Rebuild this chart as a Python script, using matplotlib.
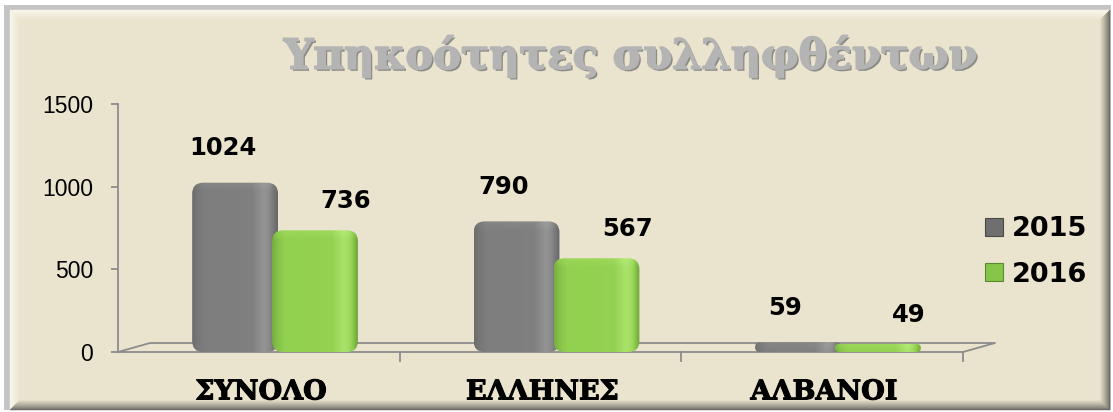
import numpy as np
import matplotlib
matplotlib.use('Agg')
import matplotlib.pyplot as plt
import matplotlib.patheffects as pe
from matplotlib.patches import Rectangle, FancyBboxPatch, Polygon
from matplotlib.colors import LinearSegmentedColormap, to_rgb
from matplotlib.transforms import Affine2D

categories = ['ΣΥΝΟΛΟ', 'ΕΛΛΗΝΕΣ', 'ΑΛΒΑΝΟΙ']
series_names = ['2015', '2016']
values_2015 = [1024, 790, 59]
values_2016 = [736, 567, 49]
y_ticks = [0, 500, 1000, 1500]
title_text = 'Υπηκοότητες συλληφθέντων'

W, H = 1113, 412
BEIGE = '#EAE4CE'


def mix(c1, c2, t):
    a = np.array(to_rgb(c1))
    b = np.array(to_rgb(c2))
    return tuple(a + (b - a) * t)


def draw_frame(fig):
    # pixel coords, origin top-left
    tr = Affine2D().scale(1.0 / W, -1.0 / H).translate(0, 1) + fig.transFigure
    fig.add_artist(Rectangle((4, 5), 1107, 405, transform=tr, facecolor='#C4C4C4',
                             edgecolor='none', zorder=-20))
    L, T, R, B = 10, 10, 1110, 410
    fig.add_artist(Rectangle((L, T), R - L, B - T, transform=tr, facecolor=BEIGE,
                             edgecolor='none', zorder=-19))
    d = 11
    for i in range(d):
        t = i / (d - 1)
        light = mix('#F8F6EC', BEIGE, t)
        dark = mix('#6A6962', BEIGE, t ** 0.8)
        sides = [
            ([(L + i, T + i), (R - i, T + i), (R - i - 1, T + i + 1), (L + i + 1, T + i + 1)], light),
            ([(L + i, T + i), (L + i + 1, T + i + 1), (L + i + 1, B - i - 1), (L + i, B - i)], light),
            ([(R - i, T + i), (R - i - 1, T + i + 1), (R - i - 1, B - i - 1), (R - i, B - i)], dark),
            ([(L + i, B - i), (R - i, B - i), (R - i - 1, B - i - 1), (L + i + 1, B - i - 1)], dark),
        ]
        for pts, col in sides:
            fig.add_artist(Polygon(pts, closed=True, transform=tr, facecolor=col,
                                   edgecolor=col, lw=0.3, zorder=-18))


def shaded_bar(ax, rect, cmap, xu_px, yu_px, z):
    x, w, h = rect.get_x(), rect.get_width(), rect.get_height()
    h_px = h / yu_px
    r_px = min(11.0, h_px / 2.0)
    r_x = r_px * xu_px
    patch = FancyBboxPatch((x, 0), w, h, boxstyle='round,pad=0,rounding_size=%f' % r_x,
                           mutation_aspect=yu_px / xu_px, facecolor='none',
                           edgecolor='none', zorder=z)
    ax.add_patch(patch)
    # horizontal cylinder-like shading
    u = np.linspace(0, 1, 120)
    prof = np.interp(u, [0, 0.06, 0.15, 0.7, 0.84, 0.9, 0.97, 1.0],
                     [0.22, 0.38, 0.5, 0.52, 0.82, 0.7, 0.3, 0.15])
    rows = max(int(h_px), 2)
    grad = np.tile(prof, (rows, 1))
    top = min(9, rows)
    for k in range(top):
        grad[k] = np.clip(grad[k] + 0.12 * (1 - k / top), 0, 1)
    im = ax.imshow(grad, extent=(x, x + w, 0, h), origin='upper', aspect='auto',
                   cmap=cmap, vmin=0, vmax=1, zorder=z, interpolation='bilinear')
    im.set_clip_path(patch)


def main():
    fig = plt.figure(figsize=(W / 100.0, H / 100.0), dpi=100)
    fig.patch.set_facecolor('white')
    draw_frame(fig)

    ax = fig.add_axes([118.0 / W, 60.0 / H, 877.0 / W, 248.0 / H])
    ax.set_facecolor('none')
    x = np.arange(len(categories))
    xlim = (-0.558, 2.558)
    ylim = (0, 1500)
    xu_px = (xlim[1] - xlim[0]) / 877.0
    yu_px = (ylim[1] - ylim[0]) / 248.0

    # floor of the 3D plot
    floor_col = '#8C8C8C'
    fx = (963 - 118) / 877.0
    bx = (150 - 118) / 877.0
    by = 9 / 248.0
    ax.plot([0, fx, 1.0, bx, 0], [0, 0, by, by, 0], color=floor_col, lw=1.3,
            transform=ax.transAxes, clip_on=False, zorder=1)
    for k in range(1, 4):
        xf = fx * k / 3.0
        ax.plot([xf, xf], [0, -by], color=floor_col, lw=1.3, transform=ax.transAxes,
                clip_on=False, zorder=1)

    w = 0.305
    off = 0.142
    cmap_gray = LinearSegmentedColormap.from_list(
        'g', ['#5E5E5E', '#7E7E7E', '#A0A0A0'])
    cmap_green = LinearSegmentedColormap.from_list(
        'gr', ['#5F9430', '#92D050', '#B8EE7A'])
    bars_a = ax.bar(x - off, values_2015, width=w, color='#7F7F7F', alpha=0)
    bars_b = ax.bar(x + off, values_2016, width=w, color='#92D050', alpha=0)
    for r in bars_a:
        shaded_bar(ax, r, cmap_gray, xu_px, yu_px, 3)
    for r in bars_b:
        shaded_bar(ax, r, cmap_green, xu_px, yu_px, 4)

    lab_font = dict(family='DejaVu Sans', weight='bold', size=17.5, color='black')
    for r, v in zip(bars_a, values_2015):
        ax.annotate(str(v), (r.get_x() + r.get_width() / 2, v), xytext=(-9, 25),
                    textcoords='offset points', ha='center', va='center', **lab_font)
    for r, v in zip(bars_b, values_2016):
        ax.annotate(str(v), (r.get_x() + r.get_width() / 2, v), xytext=(22, 21),
                    textcoords='offset points', ha='center', va='center', **lab_font)

    ax.set_xlim(*xlim)
    ax.set_ylim(*ylim)
    ax.set_yticks(y_ticks)
    ax.set_yticklabels([str(t) for t in y_ticks], family='Liberation Sans', fontsize=16.5)
    # category labels sit on the front edge of the 3D floor, a bit left of the bars
    ax.set_xticks(x - 14 * xu_px)
    ax.set_xticklabels(categories, family='DejaVu Serif', weight='bold', fontsize=19.5,
                       va='top')
    for lab in ax.get_xticklabels():
        lab.set_path_effects([pe.Stroke(linewidth=0.8, foreground='black'), pe.Normal()])
    ax.tick_params(axis='x', length=0, pad=19)
    ax.tick_params(axis='y', length=5, width=1.3, color=floor_col, pad=13)
    for s in ['top', 'right', 'bottom']:
        ax.spines[s].set_visible(False)
    ax.spines['left'].set_color(floor_col)
    ax.spines['left'].set_linewidth(1.3)
    ax.spines['left'].set_bounds(0, 1500)

    handles = [Rectangle((0, 0), 1, 1, facecolor='#6F6F6F', edgecolor='#4A4A4A', lw=0.8),
               Rectangle((0, 0), 1, 1, facecolor='#86C44A', edgecolor='#5A8A2E', lw=0.8)]
    ax.legend(handles, series_names, loc='center left',
              bbox_to_anchor=(985.0 / W, 1 - 252.0 / H), bbox_transform=fig.transFigure,
              frameon=False, prop=dict(family='DejaVu Sans', weight='bold', size=19.5),
              handlelength=0.65, handleheight=0.65, handletextpad=0.35,
              labelspacing=0.72, borderpad=0, borderaxespad=0)

    fig.text(630.0 / W, 1 - 56.0 / H, title_text, ha='center', va='center',
             family='DejaVu Serif', weight='bold', fontsize=30, color='#B4B4B4',
             path_effects=[pe.SimplePatchShadow(offset=(1.5, -1.5), shadow_rgbFace='#6E6E6E',
                                                alpha=0.75),
                           pe.Stroke(linewidth=1.2, foreground='#B4B4B4'), pe.Normal()])

    fig.savefig('out.png', dpi=100, facecolor=fig.get_facecolor())


if __name__ == '__main__':
    main()
